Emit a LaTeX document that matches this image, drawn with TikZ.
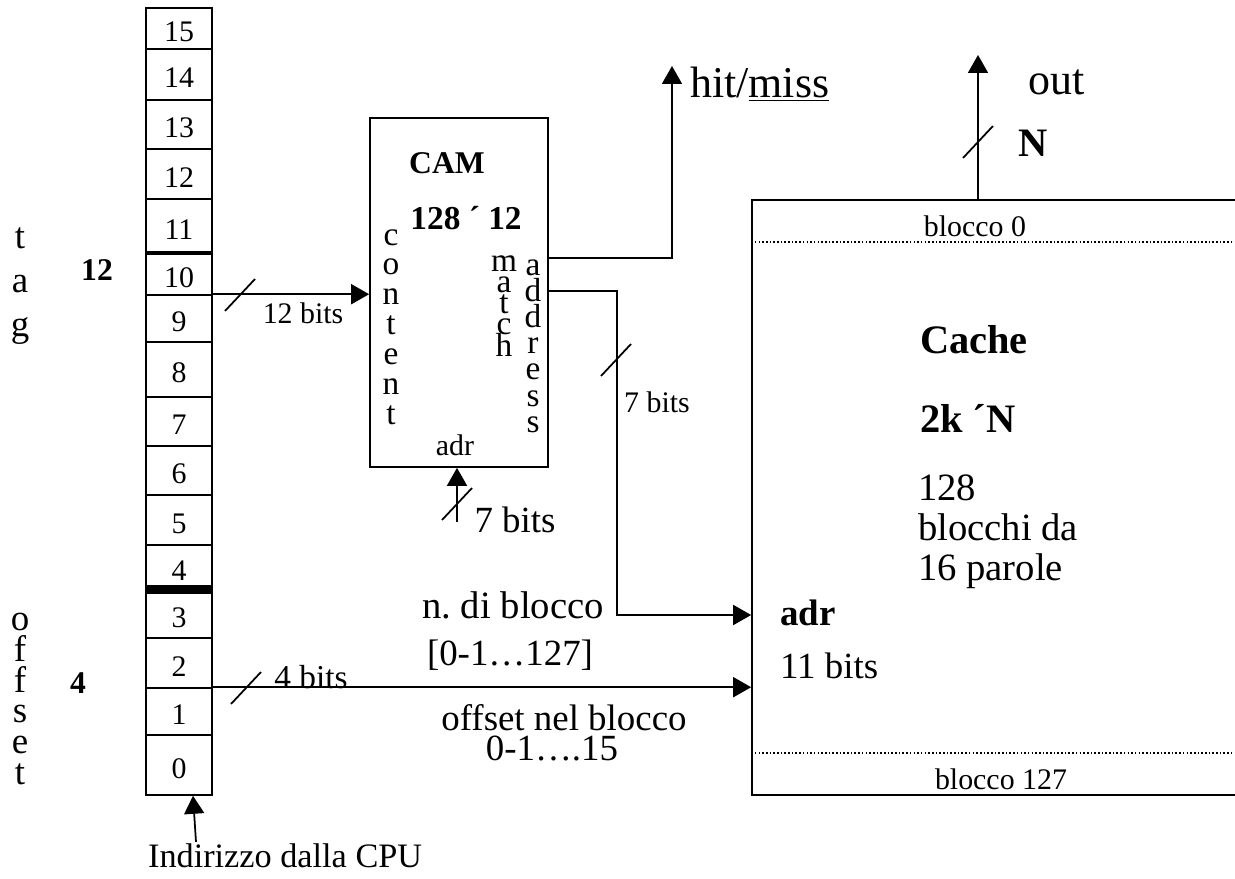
\documentclass[tikz,border=0pt]{standalone}
\usepackage{fontspec}
\setmainfont{Liberation Serif}
\usetikzlibrary{arrows.meta, positioning, calc}
\newcommand\tightskip{\lineskiplimit-20pt\relax}

\begin{document}
\begin{tikzpicture}[x=0.02cm, y=-0.02cm,
  cell/.style={draw, line width=0.9pt, minimum width=1.32cm, inner sep=0pt,
    text height=15pt, text depth=0pt, font=\fontsize{17}{18}\selectfont},
  blk/.style={draw, line width=1pt, inner sep=0pt},
  lbl/.style={font=\fontsize{17}{20}\selectfont, inner sep=1pt},
  txt/.style={font=\fontsize{21}{25}\selectfont, inner sep=1pt},
  big/.style={font=\fontsize{25}{29}\selectfont, inner sep=1pt},
  hdr/.style={font=\bfseries\fontsize{18}{21}\selectfont, inner sep=1pt},
  bhdr/.style={font=\bfseries\fontsize{23}{27}\selectfont, inner sep=1pt},
  vert/.style={align=center, inner sep=0pt},
  bus/.style={line width=1pt},
  arr/.style={bus, -{Triangle[length=0.36cm, width=0.4cm]}},
  busmark/.pic={\draw[bus] (-15,16) -- (15,-16);},
]
\useasboundingbox (0,0) rectangle (1235,879);
\clip (0,0) rectangle (1235,879);

% address register, bit 0 at the bottom
\foreach \n/\ya/\yb in {15/8/49, 14/49/100, 13/100/149, 12/149/199, 11/199/254,
    10/254/295, 9/295/342, 8/342/397, 7/397/446, 6/446/495, 5/495/545,
    4/545/590, 3/590/638, 2/638/688, 1/688/735, 0/735/795}
  \node[cell, minimum height={(\yb-\ya)*0.02cm}] (c\n) at (179,{(\ya+\yb)/2}) {\n};
\draw[line width=2pt] (c10.north west) -- (c10.north east);
\draw[line width=5pt] (c3.north west) -- (c3.north east);

% field names
\node[vert, font=\fontsize{21}{25}\selectfont] (tag) at (20,286) {t\\a\\g};
\node[hdr] (ntag) at (97,270) {12};
\node[vert, font=\fontsize{21}{17.6}\selectfont\tightskip] (off) at (20,699) {o\\f\\f\\s\\e\\t};
\node[hdr] (noff) at (78,683) {4};

% CAM
\node[blk, minimum width=3.56cm, minimum height=6.98cm] (cam) at (459,292.5) {};
\node[hdr] (camname) at (447,163) {CAM};
\node[hdr, font=\bfseries\fontsize{19}{22}\selectfont] (camsize) at (466,218) {128 ´ 12};
\node[vert, font=\fontsize{19}{17}\selectfont\tightskip] (content) at (391,327) {c\\o\\n\\t\\e\\n\\t};
\node[vert, font=\fontsize{19}{12}\selectfont\tightskip] (match) at (504,306) {m\\a\\t\\c\\h};
\node[vert, font=\fontsize{19}{14.9}\selectfont\tightskip] (address) at (533,346) {a\\d\\d\\r\\e\\s\\s};
\node[lbl] (camadr) at (455,445) {adr};

% cache
\node[blk, minimum width=10.16cm, minimum height=11.9cm] (cache) at (1006,497.5) {};
\draw[line width=0.8pt, dash pattern=on 0.9pt off 1.2pt]
  ([yshift=-0.86cm]cache.north west) -- ([yshift=-0.86cm]cache.north east);
\draw[line width=0.8pt, dash pattern=on 0.9pt off 1.2pt]
  ([yshift=0.86cm]cache.south west) -- ([yshift=0.86cm]cache.south east);
\node[lbl] (b0) at (975,226) {blocco 0};
\node[lbl] (b127) at (1001,779) {blocco 127};
\node[bhdr, anchor=west] (cname) at (918,340) {Cache};
\node[bhdr, anchor=west] (csize) at (918,418) {2k ´N};
\node[txt, anchor=west, align=left, font=\fontsize{22}{22.7}\selectfont] (cinfo) at (916,532) {128\\blocchi da\\16 parole};
\node[bhdr, anchor=west, font=\bfseries\fontsize{21}{25}\selectfont] (cadr) at (778,613) {adr};
\node[txt, anchor=west] (cbits) at (778,666) {11 bits};

% tag bits to the CAM
\draw[arr] (c9.north east) -- (c9.north east -| cam.west);
\pic at (240,295) {busmark};
\node[lbl] (tagbits) at (303,313) {12 bits};

% offset bits to the cache
\draw[arr] (c1.north east) -- (c1.north east -| cache.west);
\pic at (246,688) {busmark};
\node[lbl, font=\fontsize{19}{22}\selectfont] (offbits) at (311,677) {4 bits};
\node[txt] (offname) at (564,718) {offset nel blocco};
\node[txt] (offrange) at (552,748) {0-1….15};

% CAM address input
\coordinate (camin) at (457,522);
\draw[arr] (camin) -- (camin |- cam.south);
\pic at (457,504) {busmark};
\node[txt] (adrbits) at (515,520) {7 bits};

% hit/miss output
\coordinate (cmatch) at (cam.east |- 0,258);
\coordinate (hmtip) at (672,66);
\draw[arr] (cmatch) -| (hmtip);
\node[big, anchor=west] (hit) at (688,84) {hit/\underline{miss}};

% block number to the cache
\coordinate (caddr) at (cam.east |- 0,291);
\coordinate (bend) at (617,615);
\draw[arr] (caddr) -| (bend) -- (bend -| cache.west);
\pic at (616,360) {busmark};
\node[lbl] (blkbits) at (657,402) {7 bits};
\node[txt, font=\fontsize{22}{26}\selectfont] (blkname) at (513,605) {n.\ di blocco};
\node[txt] (blkrange) at (510,655) {[0-1…127]};

% cache output
\coordinate (outtip) at (978,55);
\draw[arr] (outtip |- cache.north) -- (outtip);
\pic at (978,142) {busmark};
\node[big] (out) at (1057,82) {out};
\node[bhdr] (outn) at (1033,143) {N};

% address from the CPU
\node[txt, anchor=west, font=\fontsize{19.5}{23}\selectfont] (cpu) at (146,856) {Indirizzo dalla CPU};
\draw[arr] ([xshift=1.0cm]cpu.north west) -- ([xshift=0.28cm]c0.south);
\end{tikzpicture}
\end{document}
